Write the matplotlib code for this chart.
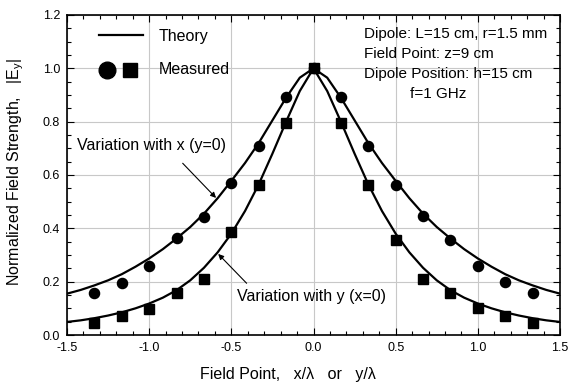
import numpy as np
import matplotlib
matplotlib.use("Agg")
from matplotlib import pyplot as plt
from matplotlib.ticker import MultipleLocator, FormatStrFormatter

plt.rcParams['font.family'] = ['Liberation Sans', 'DejaVu Sans']
plt.rcParams['axes.unicode_minus'] = False

# measured points, step lambda/6
meas_pos = [-1.333, -1.167, -1.0, -0.833, -0.667, -0.5, -0.333, -0.167, 0.0,
            0.167, 0.333, 0.5, 0.667, 0.833, 1.0, 1.167, 1.333]
meas_x = [0.156, 0.196, 0.259, 0.363, 0.444, 0.569, 0.708, 0.893, 1.0,
          0.893, 0.709, 0.563, 0.446, 0.356, 0.259, 0.198, 0.157]
meas_y = [0.046, 0.071, 0.098, 0.156, 0.209, 0.387, 0.562, 0.796, 1.0,
          0.796, 0.562, 0.356, 0.209, 0.156, 0.100, 0.071, 0.046]

# theory curves, step lambda/12
theory_pos = np.linspace(-1.5, 1.5, 37)
theory_x = [0.155, 0.169, 0.186, 0.205, 0.228, 0.256, 0.287, 0.322, 0.362, 0.405,
            0.455, 0.513, 0.578, 0.645, 0.720, 0.805, 0.890, 0.965, 1.0,
            0.965, 0.890, 0.805, 0.720, 0.645, 0.578, 0.513, 0.455, 0.405,
            0.362, 0.322, 0.287, 0.256, 0.228, 0.205, 0.186, 0.169, 0.155]
theory_y = [0.049, 0.055, 0.063, 0.073, 0.085, 0.100, 0.118, 0.140, 0.168, 0.205,
            0.252, 0.310, 0.380, 0.465, 0.565, 0.680, 0.800, 0.915, 1.0,
            0.915, 0.800, 0.680, 0.565, 0.465, 0.380, 0.310, 0.252, 0.205,
            0.168, 0.140, 0.118, 0.100, 0.085, 0.073, 0.063, 0.055, 0.049]

info_lines = ["Dipole: L=15 cm, r=1.5 mm", "Field Point: z=9 cm",
              "Dipole Position: h=15 cm"]

fig = plt.figure(figsize=(5.69, 3.87), dpi=100)
ax = fig.add_axes([67/569, 1-335/387, 493/569, 320/387])

ax.plot(theory_pos, theory_x, color='black', lw=1.6, zorder=3)
ax.plot(theory_pos, theory_y, color='black', lw=1.6, zorder=3)
ax.plot(meas_pos, meas_x, 'o', color='black', ms=7.3, zorder=4)
ax.plot(meas_pos, meas_y, 's', color='black', ms=6.5, zorder=4)

ax.set_xlim(-1.5, 1.5)
ax.set_ylim(0, 1.2)
ax.xaxis.set_major_locator(MultipleLocator(0.5))
ax.xaxis.set_minor_locator(MultipleLocator(0.1))
ax.yaxis.set_major_locator(MultipleLocator(0.2))
ax.yaxis.set_minor_locator(MultipleLocator(0.05))
ax.xaxis.set_major_formatter(FormatStrFormatter('%.1f'))
ax.yaxis.set_major_formatter(FormatStrFormatter('%.1f'))
ax.tick_params(which='both', direction='in', top=True, right=True, labelsize=9, pad=5)
ax.tick_params(which='major', length=5, width=0.8)
ax.tick_params(which='minor', length=3, width=0.8)
ax.grid(True, which='major', color='#c8c8c8', lw=0.8)
for s in ax.spines.values():
    s.set_linewidth(1.2)

ax.set_xlabel("Field Point,   x/\u03bb   or   y/\u03bb", fontsize=11.5)
ax.xaxis.set_label_coords(0.449, -0.1)
ax.set_ylabel("Normalized Field Strength,   |E$_\\mathregular{y}$|", fontsize=11.5)
ax.yaxis.set_label_coords(-0.083, 0.51)

# legend drawn by hand like the original
ax.plot([-1.303, -1.035], [1.125, 1.125], color='black', lw=1.6)
ax.plot([-1.255], [0.995], 'o', color='black', ms=12)
ax.plot([-1.115], [0.995], 's', color='black', ms=9.5)
ax.text(-0.94, 1.12, "Theory", fontsize=11.5, va='center')
ax.text(-0.94, 0.995, "Measured", fontsize=11.5, va='center')

for i, line in enumerate(info_lines):
    ax.text(0.305, 1.128 - i*0.075, line, fontsize=11, va='center')
ax.text(0.59, 0.905, "f=1 GHz", fontsize=11, va='center')

ax.annotate("", xy=(-0.593, 0.514), xytext=(-0.796, 0.644),
            arrowprops=dict(arrowstyle='-|>', color='black', lw=0.8,
                            mutation_scale=8, shrinkA=0, shrinkB=0))
ax.text(-1.44, 0.712, "Variation with x (y=0)", fontsize=11.5, va='center')
ax.annotate("", xy=(-0.58, 0.304), xytext=(-0.407, 0.194),
            arrowprops=dict(arrowstyle='-|>', color='black', lw=0.8,
                            mutation_scale=8, shrinkA=0, shrinkB=0))
ax.text(-0.467, 0.144, "Variation with y (x=0)", fontsize=11.5, va='center')

fig.savefig("out.png", dpi=100)
